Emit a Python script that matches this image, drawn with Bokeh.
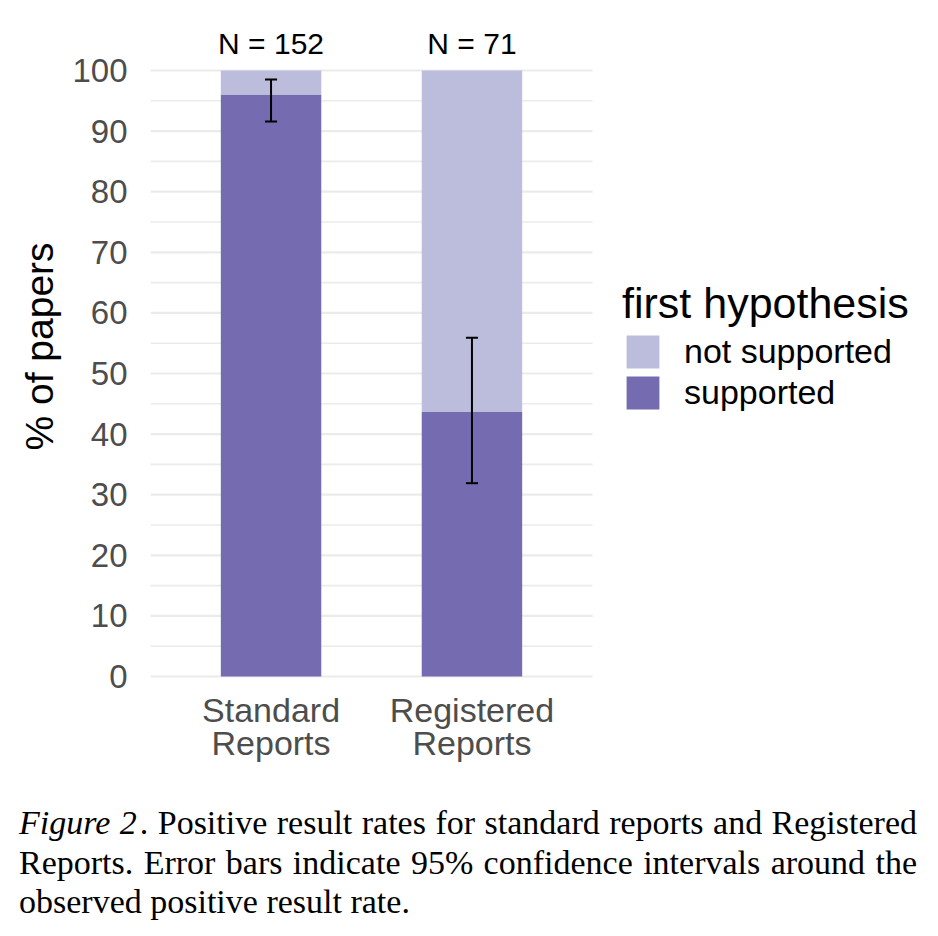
from bokeh.plotting import figure
from bokeh.layouts import column
from bokeh.models import (Range1d, ColumnDataSource, FixedTicker, Legend, LegendItem,
                          LinearAxis, Div)
from bokeh.transform import dodge
from bokeh.core.properties import value
from bokeh.embed import file_html
from bokeh.resources import INLINE

# ---------------- data ----------------
categories = ["Standard Reports", "Registered Reports"]
tick_line1 = ["Standard", "Registered"]
tick_line2 = ["Reports", "Reports"]
n_papers = [152, 71]
supported = [96.05, 43.66]
not_supported = [3.95, 56.34]
ci_lower = [91.6, 31.9]
ci_upper = [98.5, 55.9]
series_names = ["supported", "not supported"]
series_colors = ["#756bb1", "#bcbddc"]
y_ticks = [0, 10, 20, 30, 40, 50, 60, 70, 80, 90, 100]
y_minor = [5, 15, 25, 35, 45, 55, 65, 75, 85, 95]
legend_title = "first hypothesis"
y_title = "% of papers"
caption_italic = "Figure 2"
caption_text = (". Positive result rates for standard reports and Registered "
                "Reports. Error bars indicate 95% confidence intervals around the "
                "observed positive result rate.")

SANS = "Liberation Sans"
N_LABEL_Y = 104.4
X_EXPAND = 0.6          # discrete-scale padding, as in ggplot
W = 930

positions = list(range(1, len(categories) + 1))
src = ColumnDataSource(dict(
    x=positions,
    cat=categories,
    supported=supported,
    not_supported=not_supported,
    lower=ci_lower,
    upper=ci_upper,
    nlab=["N = %d" % n for n in n_papers],
    ny=[N_LABEL_Y] * len(categories),
))

# panel spans positions[0]-0.6 .. positions[-1]+0.6 over 442 px; the frame is
# extended to the right so that the legend can sit inside it
px_per_unit = 442 / (len(categories) - 1 + 2 * X_EXPAND)
x_start = positions[0] - X_EXPAND
x_end = x_start + (W - 150) / px_per_unit

p = figure(width=W, height=790,
           x_range=Range1d(x_start, x_end),
           y_range=Range1d(-0.99, 109.9),
           output_backend="svg", toolbar_location=None,
           min_border_left=150, min_border_right=0,
           min_border_top=10, min_border_bottom=108)
p.outline_line_color = None

# grid lines limited to the panel width (drawn as glyphs)
p.xgrid.visible = False
p.ygrid.visible = False
grid_x0 = positions[0] - X_EXPAND
grid_x1 = positions[-1] + X_EXPAND
p.segment(x0=[grid_x0] * len(y_minor), x1=[grid_x1] * len(y_minor), y0=y_minor, y1=y_minor,
          line_color="#ebebeb", line_width=1.6)
p.segment(x0=[grid_x0] * len(y_ticks), x1=[grid_x1] * len(y_ticks), y0=y_ticks, y1=y_ticks,
          line_color="#ebebeb", line_width=2.2)

rs = p.vbar_stack(["supported", "not_supported"], x="x", width=0.5,
                  fill_color=series_colors, line_color=None, source=src)

# error bars: stem + caps
p.segment(x0="x", x1="x", y0="lower", y1="upper", source=src,
          line_color="black", line_width=2)
cap_half = 0.03
for col in ["lower", "upper"]:
    p.segment(x0=dodge("x", -cap_half), x1=dodge("x", cap_half),
              y0=col, y1=col, source=src, line_color="black", line_width=2)

p.text(x="x", y="ny", text="nlab", source=src, text_align="center",
       text_baseline="alphabetic", text_font=value(SANS), text_font_size="30px",
       text_color="black")

# y axis
p.yaxis.ticker = FixedTicker(ticks=y_ticks, minor_ticks=y_minor)
p.yaxis.axis_line_color = None
p.yaxis.major_tick_line_color = None
p.yaxis.minor_tick_line_color = None
p.yaxis.major_tick_out = 0
p.yaxis.major_tick_in = 0
p.yaxis.minor_tick_out = 0
p.yaxis.minor_tick_in = 0
p.yaxis.major_label_standoff = 23
p.yaxis.major_label_text_font = SANS
p.yaxis.major_label_text_font_size = "33px"
p.yaxis.major_label_text_color = "#4d4d4d"
p.yaxis.axis_label = y_title
p.yaxis.axis_label_text_font = SANS
p.yaxis.axis_label_text_font_size = "39px"
p.yaxis.axis_label_text_font_style = "normal"
p.yaxis.axis_label_text_color = "black"
p.yaxis.axis_label_standoff = 8

# x axis, two lines of category labels
def style_xaxis(ax, labels, standoff):
    ax.ticker = FixedTicker(ticks=positions, minor_ticks=[])
    ax.axis_line_color = None
    ax.major_tick_line_color = None
    ax.minor_tick_line_color = None
    ax.major_tick_out = 0
    ax.major_tick_in = 0
    ax.minor_tick_out = 0
    ax.minor_tick_in = 0
    ax.major_label_standoff = standoff
    ax.major_label_text_font = SANS
    ax.major_label_text_font_size = "34px"
    ax.major_label_text_color = "#4d4d4d"
    ax.major_label_overrides = dict(zip(positions, labels))

style_xaxis(p.xaxis[0], tick_line1, 8)
ax2 = LinearAxis()
style_xaxis(ax2, tick_line2, -8)
p.add_layout(ax2, "below")

# legend inside the (extended) frame
legend = Legend(items=[LegendItem(label=series_names[1], renderers=[rs[1]]),
                       LegendItem(label=series_names[0], renderers=[rs[0]])],
                location=(472, 269), title=legend_title,
                title_text_font=SANS, title_text_font_size="43px",
                title_text_font_style="normal", title_text_color="black",
                title_standoff=3,
                label_text_font=SANS, label_text_font_size="34px",
                label_text_color="black", label_text_baseline="middle",
                glyph_width=41, glyph_height=41, label_height=41,
                label_standoff=21, spacing=0, padding=0, margin=0,
                border_line_color=None, background_fill_alpha=0)
p.add_layout(legend)

# caption, justified like the paper's text
cap = Div(text=('<div style="margin-left:14px; width:898px; padding-top:8px; '
                'font-family:\'Liberation Serif\', serif; font-size:34px; '
                'line-height:39.5px; text-align:justify; color:black;">'
                '<i style="padding-right:3px;">%s</i>%s</div>') % (caption_italic, caption_text),
          width=W, height=140)

layout = column(p, cap, spacing=0)
open("out.html", "w").write(file_html(layout, INLINE))
